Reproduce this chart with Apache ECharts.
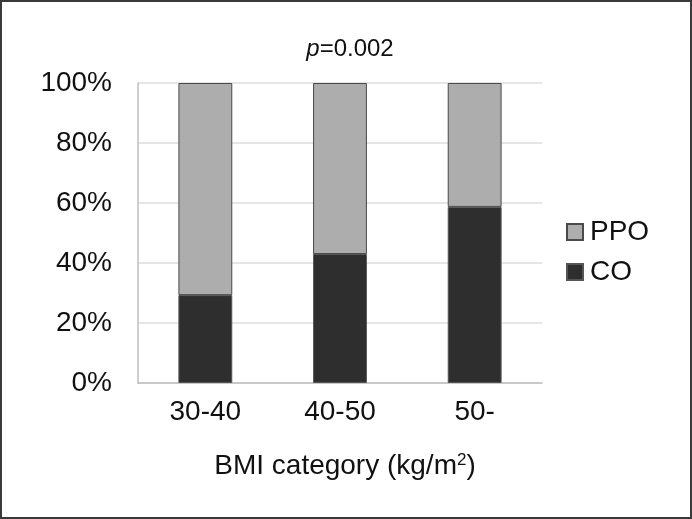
<!DOCTYPE html>
<html><head><meta charset="utf-8">
<script src="https://cdn.jsdelivr.net/npm/echarts@6/dist/echarts.min.js"></script>
<style>
html,body{margin:0;padding:0;background:#fff;}
#c{position:absolute;left:0;top:0;width:688px;height:515px;border:2px solid #3a3a3a;}
</style></head><body>
<div id="c"></div>
<script>
var categories = ['30-40', '40-50', '50-'];
var coValues = [29.3, 43, 58.7];
var ppoValues = [70.7, 57, 41.3];
var yTicks = [0, 20, 40, 60, 80, 100];

var chart = echarts.init(document.getElementById('c'));
var font = '"Liberation Sans", Arial, sans-serif';
chart.setOption({
  animation: false,
  textStyle: {fontFamily: font},
  title: {
    text: '{i|p}=0.002', left: 343, top: 30, textAlign: 'center',
    textStyle: {fontSize: 24, fontWeight: 'normal', color: '#111', fontFamily: font,
      rich: {i: {fontStyle: 'italic', fontSize: 24, color: '#111', fontFamily: font}}}
  },
  legend: {
    orient: 'vertical', left: 559, top: 211, itemGap: 12,
    itemWidth: 16, itemHeight: 16,
    data: ['PPO', 'CO'],
    textStyle: {fontSize: 28, color: '#111', fontFamily: font, padding: [0, 0, 0, 2]},
    icon: 'rect'
  },
  grid: {left: 136, right: 148, top: 81, bottom: 134},
  xAxis: {
    type: 'category', data: categories,
    axisLine: {lineStyle: {color: '#bfbfbf', width: 1.5}},
    axisTick: {show: false},
    axisLabel: {fontSize: 28, color: '#111', margin: 15},
    name: 'BMI category (kg/m{s|2})', nameLocation: 'middle', nameGap: 69,
    nameTextStyle: {fontSize: 28, color: '#111', padding: [0, 0, 0, 10],
      rich: {s: {fontSize: 17, color: '#111', verticalAlign: 'top', padding: [0, 0, 10, 0]}}}
  },
  yAxis: {
    type: 'value', min: 0, max: 100, interval: 20,
    axisLine: {show: true, lineStyle: {color: '#bfbfbf', width: 1.5}},
    axisTick: {show: false},
    splitLine: {lineStyle: {color: '#dcdcdc', width: 1.5}},
    axisLabel: {fontSize: 28, color: '#111', margin: 26, formatter: function(v){ return yTicks.indexOf(v) >= 0 ? v + '%' : ''; }}
  },
  series: [
    {name: 'CO', type: 'bar', stack: 't', data: coValues, barWidth: '40%',
     itemStyle: {color: '#2e2e2e', borderColor: '#555', borderWidth: 1}},
    {name: 'PPO', type: 'bar', stack: 't', data: ppoValues, barWidth: '40%',
     itemStyle: {color: '#adadad', borderColor: '#4a4a4a', borderWidth: 1}}
  ]
});
</script>
</body></html>
